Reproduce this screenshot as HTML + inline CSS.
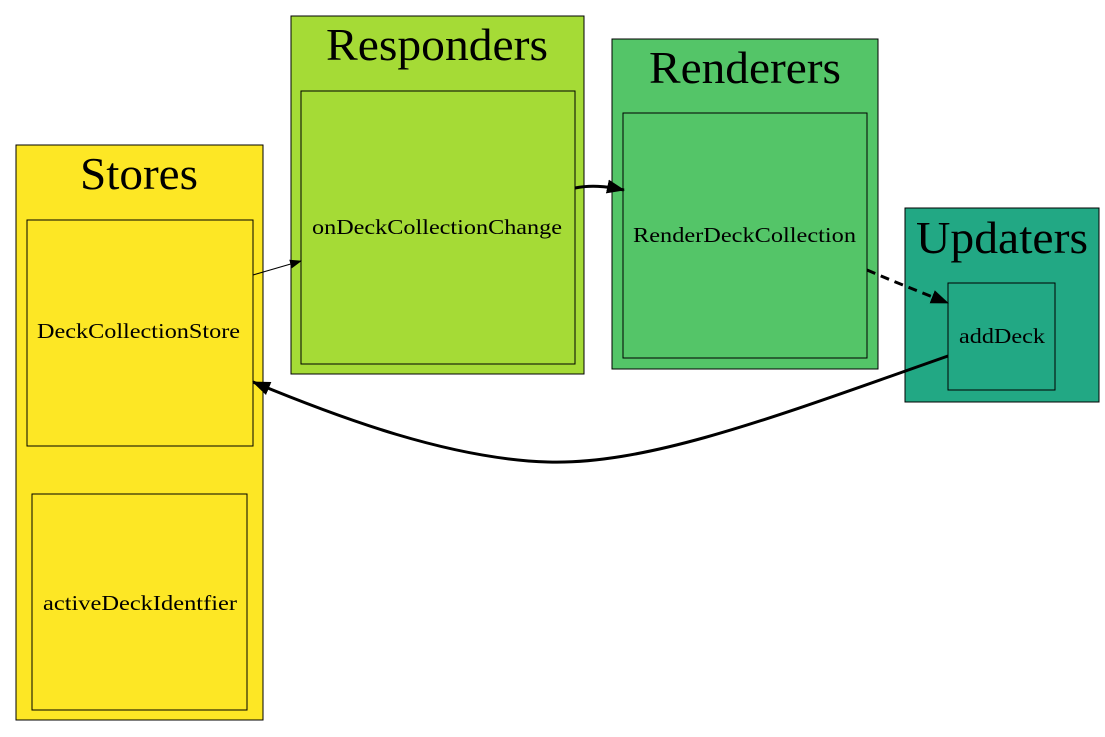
<!DOCTYPE html>
<html><head><meta charset="utf-8"><style>
html,body{margin:0;padding:0;background:#fff}
svg{display:block}
text{font-family:"Liberation Serif",serif;fill:#000}
</style></head><body>
<svg width="1105" height="737" viewBox="0 0 1105 737" xmlns="http://www.w3.org/2000/svg">
<defs>
<marker id="a" markerWidth="12" markerHeight="9" refX="11" refY="4.5" orient="auto" markerUnits="userSpaceOnUse"><path d="M0,0 L12,4.5 L0,9 z" fill="#000"/></marker>
<marker id="b" markerWidth="18" markerHeight="14" refX="17" refY="7" orient="auto" markerUnits="userSpaceOnUse"><path d="M0,0 L18,7 L0,14 z" fill="#000"/></marker>
</defs>
<rect x="16" y="145" width="247" height="575" fill="#fde725" stroke="#000"/>
<text x="80" y="189" font-size="46" textLength="118" lengthAdjust="spacingAndGlyphs">Stores</text>
<rect x="27" y="220" width="226" height="226" fill="#fde725" stroke="#000"/>
<text x="37" y="338" font-size="21" textLength="203" lengthAdjust="spacingAndGlyphs">DeckCollectionStore</text>
<rect x="32" y="494" width="215" height="216" fill="#fde725" stroke="#000"/>
<text x="43" y="610" font-size="21" textLength="194" lengthAdjust="spacingAndGlyphs">activeDeckIdentfier</text>

<rect x="291" y="16" width="293" height="358" fill="#a5db36" stroke="#000"/>
<text x="326" y="60" font-size="46" textLength="222" lengthAdjust="spacingAndGlyphs">Responders</text>
<rect x="301" y="91" width="274" height="273" fill="#a5db36" stroke="#000"/>
<text x="312" y="234" font-size="21" textLength="250" lengthAdjust="spacingAndGlyphs">onDeckCollectionChange</text>

<rect x="612" y="39" width="266" height="330" fill="#54c568" stroke="#000"/>
<text x="649" y="83" font-size="46" textLength="192" lengthAdjust="spacingAndGlyphs">Renderers</text>
<rect x="623" y="113" width="244" height="245" fill="#54c568" stroke="#000"/>
<text x="633" y="242" font-size="21" textLength="223" lengthAdjust="spacingAndGlyphs">RenderDeckCollection</text>

<rect x="905" y="208" width="194" height="194" fill="#22a884" stroke="#000"/>
<text x="916" y="253" font-size="46" textLength="172" lengthAdjust="spacingAndGlyphs">Updaters</text>
<rect x="948" y="283" width="107" height="107" fill="#22a884" stroke="#000"/>
<text x="959" y="343" font-size="21" textLength="86" lengthAdjust="spacingAndGlyphs">addDeck</text>

<path d="M253,275 L301,261" stroke="#000" stroke-width="1" fill="none" marker-end="url(#a)"/>
<path d="M575,188 C590,185 605,186 624,190" stroke="#000" stroke-width="3" fill="none" marker-end="url(#b)"/>
<path d="M867,270 C890,280 920,292 948,303" stroke="#000" stroke-width="3" stroke-dasharray="9,6" fill="none" marker-end="url(#b)"/>
<path d="M948,356 C780,415 650,465 548,462 C450,459 340,418 253,382" stroke="#000" stroke-width="3" fill="none" marker-end="url(#b)"/>
</svg>
</body></html>
